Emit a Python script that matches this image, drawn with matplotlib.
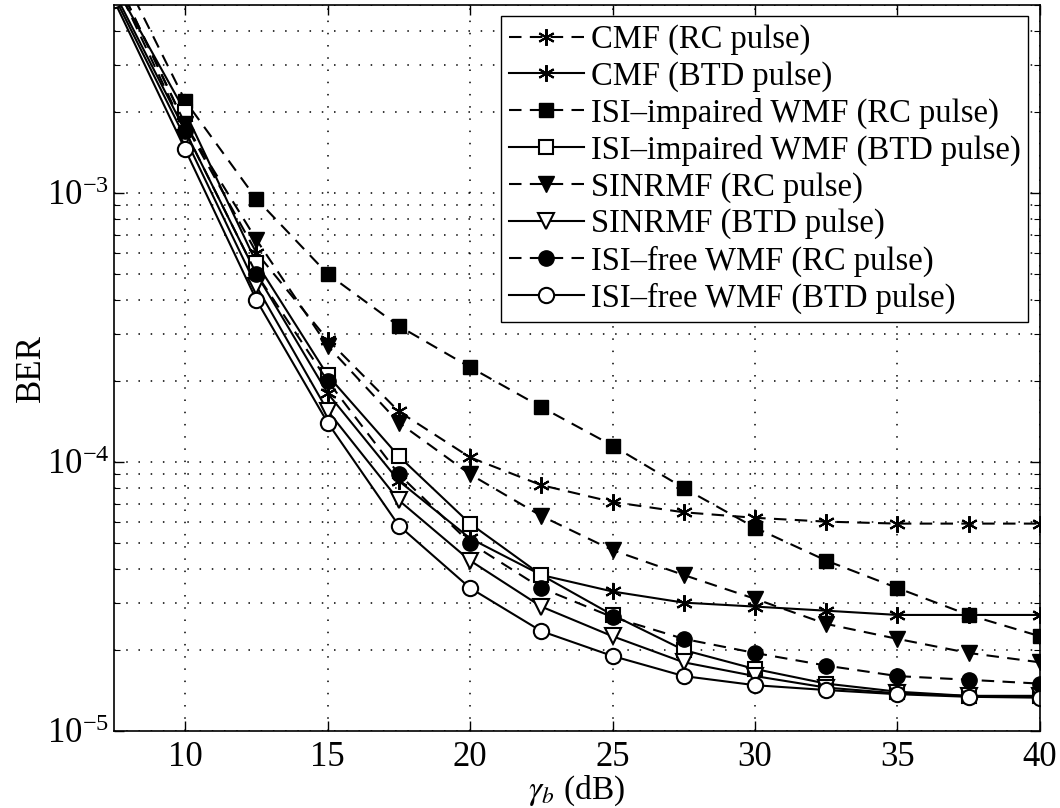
import matplotlib
matplotlib.use('Agg')
import matplotlib.pyplot as plt
from matplotlib.ticker import LogLocator, NullFormatter

plt.rcParams['font.family'] = ['Liberation Serif', 'DejaVu Serif']
plt.rcParams['mathtext.fontset'] = 'stix'

snr = [7.5, 10, 12.5, 15, 17.5, 20, 22.5, 25, 27.5, 30, 32.5, 35, 37.5, 40]

cmf_rc = [6.5e-3, 1.8e-3, 6.0e-4, 2.85e-4, 1.54e-4, 1.04e-4, 8.2e-5, 7.1e-5, 6.5e-5, 6.2e-5, 6.0e-5, 5.9e-5, 5.9e-5, 5.9e-5]
cmf_btd = [5.6e-3, 1.7e-3, 5.0e-4, 1.8e-4, 8.5e-5, 5.2e-5, 3.8e-5, 3.3e-5, 3.0e-5, 2.9e-5, 2.8e-5, 2.7e-5, 2.7e-5, 2.7e-5]
wmf_imp_rc = [7.5e-3, 2.2e-3, 9.5e-4, 5.0e-4, 3.2e-4, 2.25e-4, 1.6e-4, 1.15e-4, 8.0e-5, 5.7e-5, 4.3e-5, 3.4e-5, 2.7e-5, 2.25e-5]
wmf_imp_btd = [6.0e-3, 2.0e-3, 5.5e-4, 2.1e-4, 1.05e-4, 5.9e-5, 3.8e-5, 2.7e-5, 2.0e-5, 1.7e-5, 1.5e-5, 1.4e-5, 1.35e-5, 1.35e-5]
sinr_rc = [6.5e-3, 1.8e-3, 6.7e-4, 2.7e-4, 1.4e-4, 9.0e-5, 6.3e-5, 4.7e-5, 3.8e-5, 3.1e-5, 2.5e-5, 2.2e-5, 1.95e-5, 1.8e-5]
sinr_btd = [5.4e-3, 1.6e-3, 4.5e-4, 1.55e-4, 7.2e-5, 4.3e-5, 2.9e-5, 2.25e-5, 1.8e-5, 1.6e-5, 1.45e-5, 1.38e-5, 1.35e-5, 1.35e-5]
wmf_free_rc = [6.2e-3, 1.7e-3, 5.0e-4, 2.0e-4, 9.0e-5, 5.0e-5, 3.4e-5, 2.65e-5, 2.2e-5, 1.95e-5, 1.75e-5, 1.6e-5, 1.55e-5, 1.5e-5]
wmf_free_btd = [5.2e-3, 1.45e-3, 4.0e-4, 1.4e-4, 5.8e-5, 3.4e-5, 2.35e-5, 1.9e-5, 1.6e-5, 1.48e-5, 1.42e-5, 1.37e-5, 1.34e-5, 1.33e-5]

labels = ['CMF (RC pulse)', 'CMF (BTD pulse)',
          'ISI\u2013impaired WMF (RC pulse)', 'ISI\u2013impaired WMF (BTD pulse)',
          'SINRMF (RC pulse)', 'SINRMF (BTD pulse)',
          'ISI\u2013free WMF (RC pulse)', 'ISI\u2013free WMF (BTD pulse)']

fig = plt.figure(figsize=(10.6, 8.08), dpi=100)
ax = fig.add_axes([0.1075, 0.0953, 0.8735, 0.8987])

dash = (0, (6, 4))
ms = 10
ax.plot(snr, cmf_rc, color='k', ls=dash, lw=1.5, marker=(6, 2, 0), ms=ms + 2, mew=1.5, label=labels[0])
ax.plot(snr, cmf_btd, color='k', ls='-', lw=1.5, marker=(6, 2, 0), ms=ms + 2, mew=1.5, label=labels[1])
ax.plot(snr, wmf_imp_rc, color='k', ls=dash, lw=1.5, marker='s', ms=ms, mfc='k', label=labels[2])
ax.plot(snr, wmf_imp_btd, color='k', ls='-', lw=1.5, marker='s', ms=ms, mfc='w', mew=1.5, label=labels[3])
ax.plot(snr, sinr_rc, color='k', ls=dash, lw=1.5, marker='v', ms=ms + 2, mfc='k', label=labels[4])
ax.plot(snr, sinr_btd, color='k', ls='-', lw=1.5, marker='v', ms=ms + 2, mfc='w', mew=1.5, label=labels[5])
ax.plot(snr, wmf_free_rc, color='k', ls=dash, lw=1.5, marker='o', ms=ms + 1, mfc='k', label=labels[6])
ax.plot(snr, wmf_free_btd, color='k', ls='-', lw=1.5, marker='o', ms=ms + 1, mfc='w', mew=1.5, label=labels[7])

ax.set_yscale('log')
ax.set_xlim(7.5, 40)
ax.set_ylim(1e-5, 5e-3)
ax.set_xticks([10, 15, 20, 25, 30, 35, 40])
ax.yaxis.set_major_locator(LogLocator(base=10, numticks=10))
ax.yaxis.set_minor_locator(LogLocator(base=10, subs=range(2, 10), numticks=20))
ax.yaxis.set_minor_formatter(NullFormatter())

ax.tick_params(which='both', direction='in', top=True, right=True, labelsize=25)
ax.tick_params(which='major', length=7, width=1)
ax.tick_params(which='minor', length=4, width=0.8)
ax.tick_params(axis='x', pad=7)
ax.grid(True, which='major', axis='both', color='k', ls=(0, (1, 7)), lw=1.1)
ax.grid(True, which='minor', axis='y', color='k', ls=(0, (1, 7)), lw=1.1)
for s in ax.spines.values():
    s.set_linewidth(1.2)

ax.set_xlabel(r'$\gamma_b$ (dB)', fontsize=24, labelpad=0)
ax.set_ylabel('BER', fontsize=25, labelpad=-1)

leg = ax.legend(loc='upper right', fontsize=23.5, frameon=True, fancybox=False,
                edgecolor='k', framealpha=1, labelspacing=0.18, handlelength=2.3,
                handletextpad=0.2, borderpad=0.25, borderaxespad=0.35)
leg.get_frame().set_linewidth(1.0)

fig.savefig('out.png', dpi=100)
